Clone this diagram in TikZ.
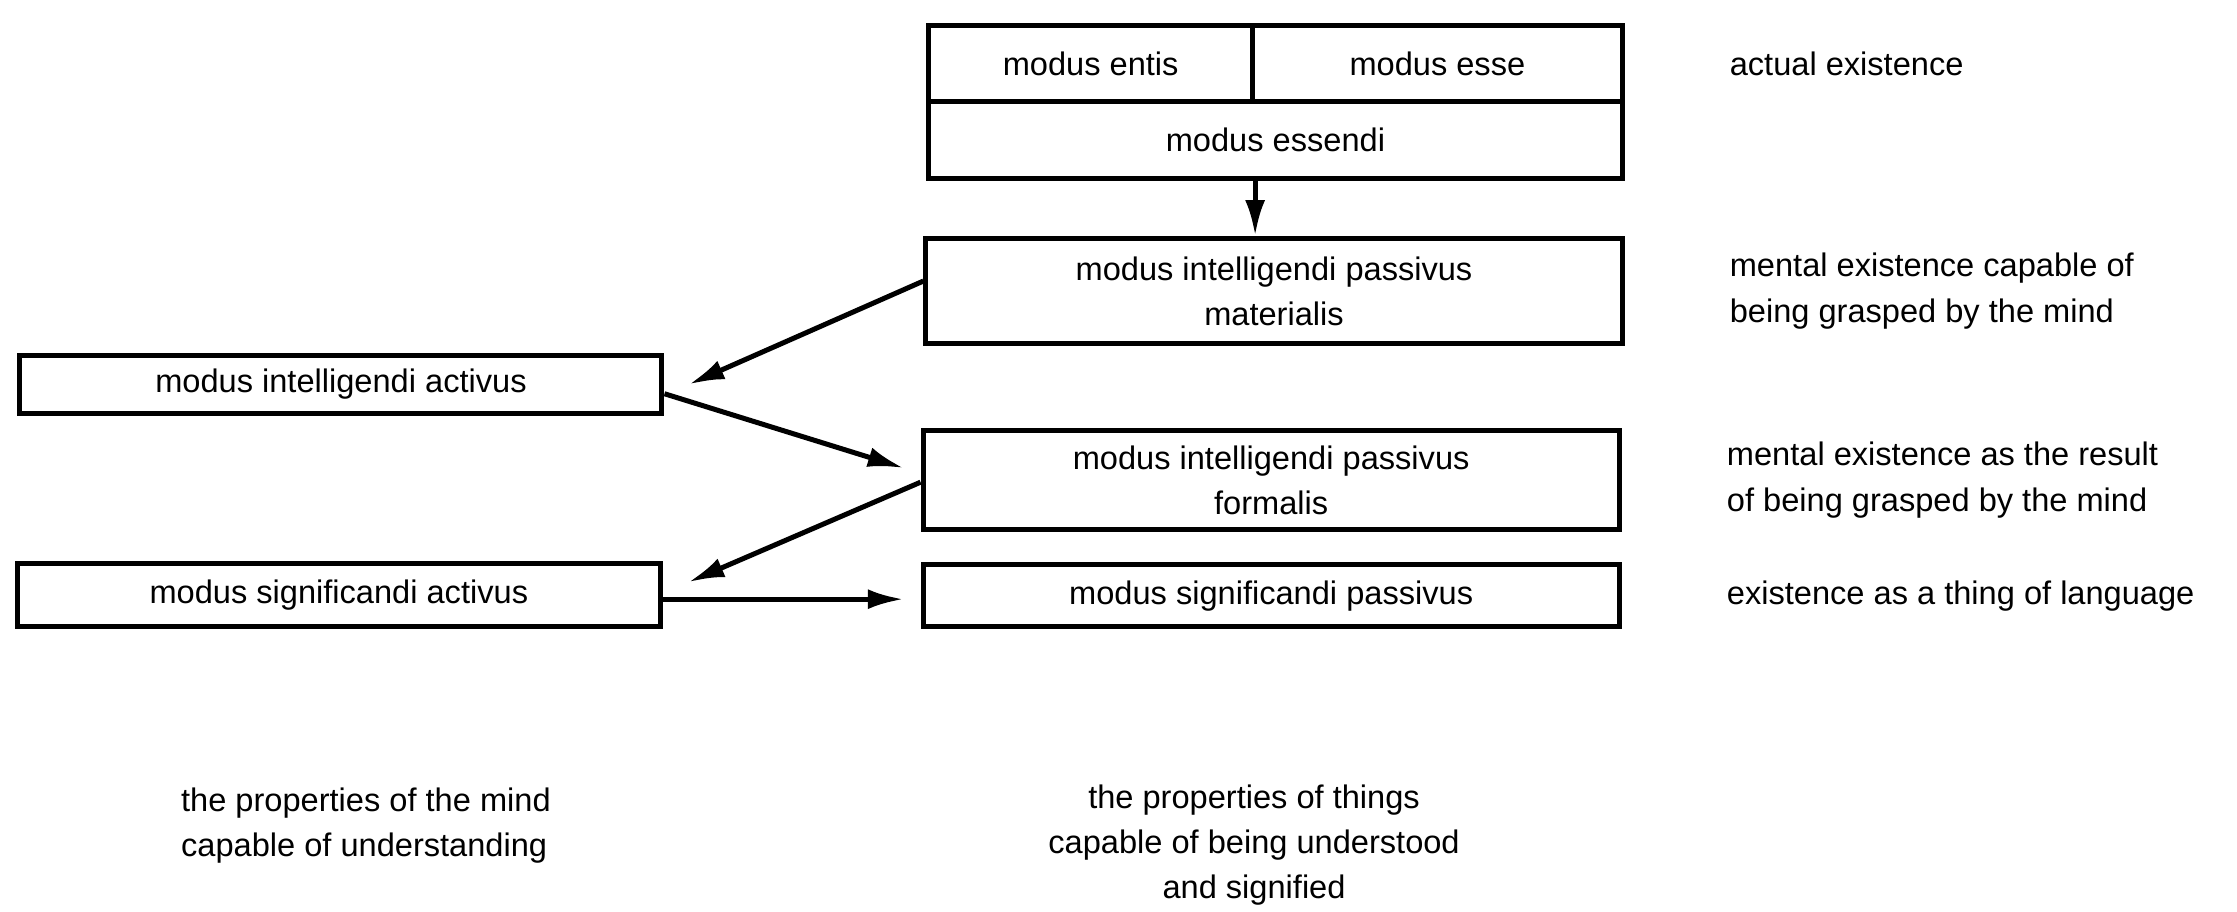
\documentclass[tikz,border=0pt]{standalone}
\usepackage{fontspec}
\setmainfont{Liberation Sans}
\usetikzlibrary{arrows.meta, positioning}

\begin{document}
\begin{tikzpicture}[
  box/.style={draw, line width=1pt, inner sep=0pt, align=center, font=\fontsize{6.5}{9}\selectfont},
  note/.style={inner sep=0pt, align=left, font=\fontsize{6.5}{9}\selectfont},
  link/.style={line width=1pt, -{Latex[length=2.5mm,width=1.4mm]}},
  node distance=0.73
]
  \useasboundingbox (0,0) rectangle (15.68,-6.39);

  \node[box, minimum width=2.27cm, minimum height=0.53cm] (entis) at (7.645,-0.445) {modus entis};
  \node[box, minimum width=2.59cm, minimum height=0.53cm] (esse) at (10.075,-0.445) {modus esse};
  \node[box, minimum width=4.86cm, minimum height=0.54cm] (essendi) at (8.94,-0.98) {modus essendi};

  \node[box, minimum width=4.88cm, minimum height=0.74cm] (mipm) at (8.93,-2.04) {modus intelligendi passivus\\ materialis};
  \node[box, minimum width=4.50cm, minimum height=0.41cm] (mia) at (2.39,-2.695) {modus intelligendi activus};
  \node[box, minimum width=4.88cm, minimum height=0.69cm] (mipf) at (8.91,-3.365) {modus intelligendi passivus\\ formalis};
  \node[box, minimum width=4.51cm, minimum height=0.44cm] (msa) at (2.375,-4.17) {modus significandi activus};
  \node[box, minimum width=4.88cm, minimum height=0.43cm] (msp) at (8.91,-4.175) {modus significandi passivus};

  \node[note, right=0.73 of esse] (actual) {actual existence};
  \node[note, right=0.73 of mipm] (grasp) {mental existence capable of\\ being grasped by the mind};
  \node[note, right=0.73 of mipf] (result) {mental existence as the result\\ of being grasped by the mind};
  \node[note, right=0.73 of msp] (lang) {existence as a thing of language};

  \node[note] (mind) at (2.565,-5.785) {the properties of the mind\\ capable of understanding};
  \node[note, align=center] (things) at (8.79,-5.925) {the properties of things\\ capable of being understood\\ and signified};

  \draw[link] (essendi.south -| entis.east) -- (mipm.north -| entis.east);
  \draw[link] ([yshift=0.7mm]mipm.west) -- ([xshift=1.7mm]mia.east);
  \draw[link] ([yshift=-0.65mm]mia.east) -- ([xshift=-1.2mm,yshift=0.85mm]mipf.west);
  \draw[link] ([yshift=-0.15mm]mipf.west) -- ([xshift=1.8mm,yshift=0.9mm]msa.east);
  \draw[link] ([yshift=-0.3mm]msa.east) -- ([xshift=-1.2mm,yshift=-0.3mm]msa.east -| msp.west);
\end{tikzpicture}
\end{document}
